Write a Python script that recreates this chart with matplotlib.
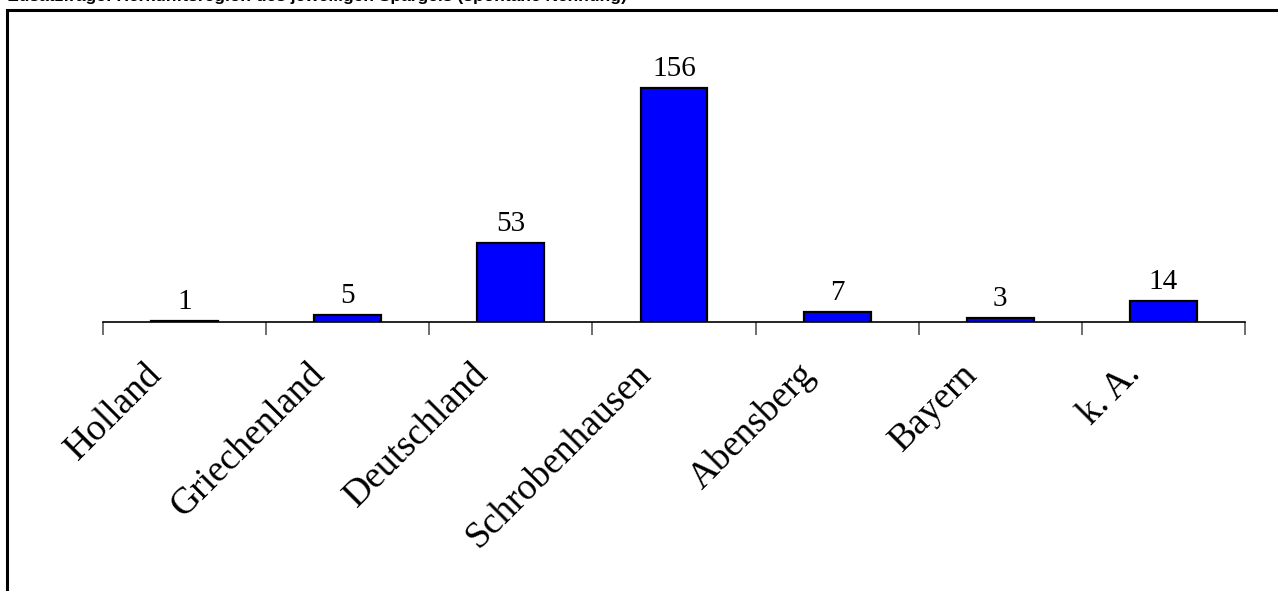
import matplotlib.pyplot as plt
import matplotlib.transforms as mtransforms
from matplotlib.patches import Rectangle

categories = ["Holland", "Griechenland", "Deutschland", "Schrobenhausen",
              "Abensberg", "Bayern", "k. A."]
counts = [1, 5, 53, 156, 7, 3, 14]
title = "Zusatzfrage: Herkunftsregion des jeweiligen Spargels (spontane Nennung)"

W, H = 1278, 591
fig = plt.figure(figsize=(W / 100, H / 100), dpi=100)

# plot area: x -0.5..6.5 spans px 103..1245, baseline at px 322, 1.5 px per unit
ymax = 170
ax = fig.add_axes([103 / W, (H - 322) / H, 1142 / W, ymax * 1.5 / H])
x = list(range(len(categories)))
ax.bar(x, counts, width=0.41, color="#0000ff", edgecolor="black", linewidth=1.6, zorder=3)
ax.set_xlim(-0.5, len(categories) - 0.5)
ax.set_ylim(0, ymax)

for s in ["top", "right", "left"]:
    ax.spines[s].set_visible(False)
ax.spines["bottom"].set_linewidth(1.2)
ax.set_yticks([])
ax.set_xticks(x)
ax.set_xticklabels([])
ax.tick_params(axis="x", which="major", length=0)
ax.set_xticks([i - 0.5 for i in range(len(categories) + 1)], minor=True)
ax.tick_params(axis="x", which="minor", length=9, width=1.2, color="#555555", direction="out")

serif = "Liberation Serif"
for i, v in zip(x, counts):
    ax.annotate(str(v), (i, v), xytext=(0, 4), textcoords="offset points",
                ha="center", va="bottom", fontsize=21, family=serif)

off = mtransforms.ScaledTranslation(-28 / 100, -47 / 100, fig.dpi_scale_trans)
for i, name in zip(x, categories):
    ax.text(i, 0, name, transform=ax.transData + off, rotation=45,
            rotation_mode="anchor", ha="right", va="center",
            fontsize=27, family=serif)

# outer frame, cut off at right and bottom
fig.patches.append(Rectangle((7 / W, -0.1), 1.2, (H - 10) / H + 0.1,
                             transform=fig.transFigure, fill=False,
                             edgecolor="black", linewidth=2.2))

# title, mostly cut off at top edge as in the source
fig.text(8 / W, 1 - 1.5 / H, title, ha="left", va="baseline",
         fontsize=12.5, fontweight="bold", family="Liberation Sans")

fig.savefig("out.png", dpi=100)
